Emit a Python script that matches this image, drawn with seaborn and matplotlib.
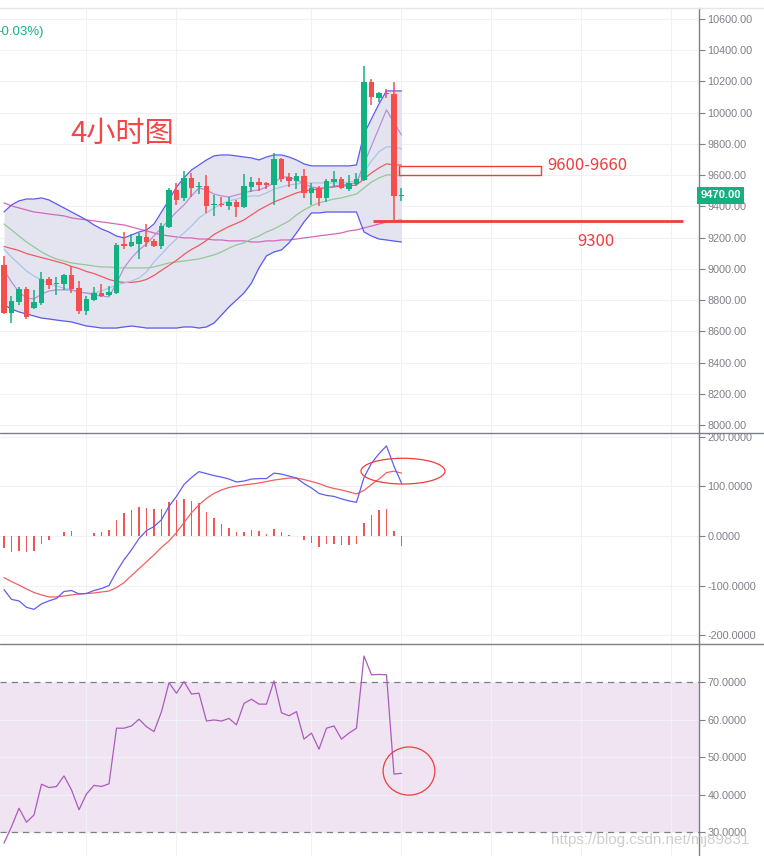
import numpy as np
import pandas as pd
import matplotlib
matplotlib.use("Agg")
import matplotlib.pyplot as plt
from matplotlib.patches import Ellipse, Rectangle
from matplotlib.lines import Line2D
import seaborn as sns

# 4h candles
opens = [9025, 8717, 8788, 8871, 8749, 8781, 8935, 8903, 8903, 8961,
         8877, 8730, 8800, 8845, 8832, 8845, 9159, 9146, 9159, 9206,
         9178, 9146, 9268, 9505, 9454, 9582, 9524, 9531, 9409, 9415,
         9402, 9428, 9396, 9524, 9556, 9548, 9537, 9703, 9586, 9564,
         9595, 9484, 9516, 9452, 9556, 9575, 9513, 9543, 9569, 10196,
         10096, 10126, 10122, 9468]
highs = [9082, 8826, 8884, 8884, 8865, 8980, 8948, 8948, 8967, 9018,
         8922, 8826, 8884, 8903, 8890, 9166, 9236, 9222, 9230, 9287,
         9193, 9294, 9518, 9550, 9627, 9614, 9556, 9601, 9473, 9460,
         9460, 9441, 9607, 9588, 9582, 9556, 9740, 9710, 9612, 9612,
         9641, 9552, 9531, 9575, 9629, 9586, 9601, 9616, 10299, 10214,
         10134, 10150, 10196, 9516]
lows = [8711, 8653, 8768, 8679, 8743, 8768, 8871, 8832, 8865, 8845,
        8711, 8704, 8795, 8820, 8826, 8840, 9127, 9140, 9063, 9140,
        9138, 9127, 9262, 9409, 9434, 9460, 9479, 9358, 9338, 9396,
        9377, 9332, 9390, 9492, 9498, 9513, 9409, 9558, 9522, 9509,
        9452, 9409, 9404, 9430, 9526, 9509, 9500, 9531, 9565, 10049,
        10070, 10096, 9308, 9436]
closes = [8717, 8794, 8871, 8692, 8788, 8935, 8897, 8909, 8961, 8871,
          8730, 8807, 8845, 8826, 8852, 9153, 9146, 9172, 9210, 9170,
          9146, 9274, 9505, 9441, 9582, 9518, 9531, 9402, 9415, 9409,
          9428, 9396, 9531, 9556, 9537, 9539, 9703, 9575, 9564, 9595,
          9484, 9516, 9452, 9563, 9575, 9516, 9548, 9575, 10196, 10099,
          10126, 10118, 9468, 9470]

bb_upper = [9364, 9409, 9435, 9447, 9447, 9454, 9441, 9415, 9390, 9364,
            9339, 9313, 9281, 9255, 9236, 9210, 9198, 9217, 9236, 9249,
            9287, 9364, 9441, 9524, 9582, 9633, 9665, 9697, 9723, 9729,
            9729, 9723, 9716, 9710, 9697, 9716, 9729, 9729, 9716, 9697,
            9672, 9659, 9659, 9659, 9659, 9659, 9659, 9665, 9864, 9960,
            10056, 10139, 10139, 10139]
bb_lower = [8769, 8743, 8724, 8711, 8698, 8685, 8679, 8672, 8666, 8660,
            8647, 8634, 8628, 8621, 8621, 8621, 8628, 8634, 8628, 8621,
            8621, 8621, 8621, 8621, 8628, 8628, 8621, 8628, 8653, 8704,
            8756, 8801, 8845, 8909, 9006, 9083, 9108, 9121, 9166, 9230,
            9300, 9358, 9358, 9364, 9364, 9364, 9364, 9364, 9236, 9210,
            9191, 9185, 9178, 9172]
ma_fast = [8993, 8916, 8852, 8813, 8807, 8839, 8858, 8865, 8865, 8865,
           8852, 8845, 8833, 8826, 8820, 8909, 9006, 9070, 9121, 9159,
           9211, 9262, 9313, 9364, 9409, 9467, 9518, 9505, 9479, 9467,
           9460, 9473, 9486, 9499, 9505, 9524, 9550, 9588, 9588, 9569,
           9543, 9524, 9518, 9518, 9531, 9537, 9543, 9550, 9672, 9787,
           9902, 10018, 9935, 9857]
ma_mid = [9127, 9075, 9031, 8986, 8954, 8929, 8903, 8890, 8877, 8865,
          8852, 8845, 8845, 8858, 8877, 8897, 8909, 8922, 8941, 8980,
          9044, 9095, 9146, 9191, 9230, 9274, 9326, 9358, 9390, 9415,
          9435, 9447, 9460, 9467, 9467, 9486, 9511, 9524, 9537, 9543,
          9550, 9550, 9550, 9550, 9550, 9550, 9556, 9563, 9620, 9691,
          9749, 9781, 9781, 9768]
ma_slow = [9143, 9130, 9117, 9098, 9085, 9072, 9060, 9047, 9034, 9015,
           9002, 8983, 8970, 8951, 8932, 8919, 8913, 8913, 8919, 8932,
           8958, 8990, 9022, 9054, 9092, 9124, 9150, 9182, 9220, 9246,
           9271, 9291, 9313, 9345, 9377, 9403, 9428, 9447, 9467, 9486,
           9499, 9505, 9511, 9518, 9524, 9531, 9531, 9537, 9576, 9614,
           9646, 9672, 9665, 9665]
ma_green = [9287, 9249, 9210, 9172, 9140, 9108, 9083, 9063, 9050, 9038,
            9031, 9025, 9018, 9012, 9012, 9006, 9006, 9006, 9006, 9006,
            9012, 9025, 9038, 9044, 9050, 9057, 9063, 9076, 9089, 9108,
            9133, 9153, 9166, 9191, 9210, 9236, 9255, 9281, 9306, 9345,
            9377, 9403, 9422, 9435, 9447, 9454, 9467, 9479, 9518, 9556,
            9582, 9601, 9601, 9595]
ma_long = [9422, 9403, 9390, 9377, 9364, 9358, 9351, 9345, 9339, 9326,
           9319, 9313, 9307, 9300, 9294, 9287, 9281, 9268, 9255, 9243,
           9230, 9217, 9211, 9204, 9198, 9198, 9191, 9191, 9185, 9185,
           9179, 9179, 9179, 9172, 9172, 9179, 9179, 9185, 9185, 9191,
           9198, 9204, 9211, 9217, 9223, 9230, 9243, 9249, 9262, 9274,
           9287, 9300, 9307, 9313]

# MACD panel
macd_line = [-108, -128, -131, -144, -148, -137, -131, -126, -112, -110,
             -117, -116, -110, -106, -100, -72, -48, -28, -5, 11,
             19, 33, 60, 80, 104, 118, 130, 126, 122, 119,
             115, 109, 111, 115, 116, 116, 127, 125, 121, 117,
             106, 97, 86, 82, 80, 75, 71, 68, 118, 147,
             166, 182, 141, 107]
signal_line = [-84, -92, -99, -107, -114, -119, -123, -123, -121, -119,
               -117, -116, -115, -113, -111, -104, -94, -80, -66, -52,
               -38, -23, -10, 7, 27, 47, 63, 76, 86, 93,
               98, 101, 103, 105, 107, 110, 113, 115, 117, 117,
               114, 110, 106, 100, 96, 93, 89, 85, 92, 104,
               115, 128, 131, 127]
hist = [-24, -32, -30, -32, -30, -16, -8, 0, 9, 11,
        1, 1, 7, 9, 12, 32, 47, 52, 58, 57,
        54, 54, 69, 73, 75, 71, 66, 49, 36, 24,
        16, 8, 9, 12, 10, 5, 14, 8, 3, 0,
        -9, -14, -22, -17, -16, -18, -18, -16, 26, 42,
        52, 55, 10, -20]

# RSI panel
rsi = [27.1, 31.5, 36.4, 32.7, 34.6, 42.8, 41.9, 42.2, 45.0, 41.3,
       36.0, 40.2, 42.5, 42.2, 42.9, 57.7, 57.7, 58.3, 60.1, 58.1,
       56.8, 62.1, 69.8, 67.0, 70.1, 66.8, 67.0, 59.6, 59.9, 59.6,
       60.3, 58.6, 64.3, 65.4, 64.1, 64.1, 70.3, 61.8, 61.0, 62.1,
       54.8, 56.4, 52.1, 57.7, 58.3, 54.8, 56.4, 57.7, 76.9, 71.9,
       72.0, 71.9, 45.5, 45.7]

price_ticks = list(range(8000, 10601, 200))
macd_ticks = [-200, -100, 0, 100, 200]
rsi_ticks = [30, 40, 50, 60, 70]
vgrid = [11, 23, 41, 53, 65, 77, 89]
last_price = 9470

UP = "#13b182"
DOWN = "#f44f4f"
AXC = "#7d808a"
GRID = "#eff1f5"

df = pd.DataFrame({"i": np.arange(len(closes)), "open": opens, "high": highs,
                   "low": lows, "close": closes, "bb_up": bb_upper, "bb_lo": bb_lower,
                   "ma_fast": ma_fast, "ma_mid": ma_mid, "ma_slow": ma_slow,
                   "ma_green": ma_green, "ma_long": ma_long,
                   "macd": macd_line, "signal": signal_line, "hist": hist, "rsi": rsi})

sns.set_style("white")
plt.rcParams["font.family"] = ["Liberation Sans", "DejaVu Sans"]

fig = plt.figure(figsize=(7.64, 8.56), dpi=100)
W, H = 764, 856
axw = 699 / W
ax1 = fig.add_axes([0, 1 - 433 / H, axw, (433 - 8) / H])
ax2 = fig.add_axes([0, 1 - 644 / H, axw, (644 - 433) / H])
ax3 = fig.add_axes([0, 0, axw, 212 / H])

XL = (-0.533, 92.67)


def style(ax, ticks, fmt):
    ax.set_xlim(*XL)
    ax.set_xticks(vgrid)
    ax.set_xticklabels([])
    ax.tick_params(axis="x", length=0)
    ax.yaxis.tick_right()
    ax.set_yticks(ticks)
    ax.set_yticklabels([fmt.format(t) for t in ticks])
    ax.tick_params(axis="y", length=4, width=0.8, color=AXC, labelcolor=AXC,
                   labelsize=7.8, pad=2)
    ax.grid(True, color=GRID, lw=0.8)
    ax.set_axisbelow(True)
    for s in ["top", "left", "bottom"]:
        ax.spines[s].set_visible(False)
    ax.spines["right"].set_color(AXC)
    ax.spines["right"].set_linewidth(1)
    ax.set_xlabel("")
    ax.set_ylabel("")


# ---- price panel
ax1.fill_between(df["i"], df["bb_lo"], df["bb_up"], color="#e4e4f0", lw=0, zorder=1)
for col, c, lw in [("ma_long", "#d468b9", 0.9), ("ma_green", "#93c995", 0.9),
                   ("ma_slow", "#ef5b60", 0.9), ("ma_mid", "#a9c4e8", 0.9),
                   ("ma_fast", "#b790d8", 0.9), ("bb_up", "#5a5aee", 0.9),
                   ("bb_lo", "#5a5aee", 0.9)]:
    sns.lineplot(data=df, x="i", y=col, ax=ax1, color=c, lw=lw, zorder=2)

colors = [UP if c >= o else DOWN for o, c in zip(opens, closes)]
ax1.vlines(df["i"], df["low"], df["high"], colors=colors, lw=1.1, zorder=3)
body_lo = np.minimum(df["open"], df["close"])
body_h = np.maximum(np.abs(df["close"] - df["open"]), 6)
ax1.bar(df["i"], body_h, bottom=body_lo, width=0.68, color=colors, lw=0, zorder=4)

style(ax1, price_ticks, "{:.2f}")
ax1.set_ylim(7949, 10670)

# annotations on price panel
ax1.add_patch(Rectangle((52.67, 9600), 18.93, 60, fill=False, ec="#f03c3c", lw=1, zorder=5))
ax1.text(72.5, 9660, "9600-9660", color="#f03c3c", fontsize=12, va="center", ha="left",
         family=["Noto Sans CJK SC", "DejaVu Sans"])
ax1.hlines(9305, 49.2, 90.5, color="#f03c3c", lw=2, zorder=5)
ax1.text(76.4, 9178, "9300", color="#f03c3c", fontsize=12, va="center", ha="left",
         family=["Noto Sans CJK SC", "DejaVu Sans"])
ax1.text(8.8, 9862, "4小时图", color="#f44646", fontsize=21, va="center", ha="left",
         family=["Noto Sans CJK SC", "DejaVu Sans"])
ax1.text(-0.9, 10514, "-0.03%)", color="#1fae86", fontsize=9.5, va="center", ha="left")
ax1.text(1.002, last_price, f"{last_price:.2f}", transform=ax1.get_yaxis_transform(),
         color="white", fontsize=8, fontweight="bold", va="center", ha="left",
         bbox=dict(boxstyle="square,pad=0.3", fc=UP, ec="none"), clip_on=False, zorder=10)

# ---- MACD panel
ax2.bar(df["i"], df["hist"], width=0.16, color="#f25555", lw=0, zorder=2)
sns.lineplot(data=df, x="i", y="signal", ax=ax2, color="#f25f5f", lw=0.9, zorder=3)
sns.lineplot(data=df, x="i", y="macd", ax=ax2, color="#5e5ef0", lw=0.9, zorder=3)
style(ax2, macd_ticks, "{:.4f}")
ax2.set_ylim(-218, 208)
ax2.add_patch(Ellipse((53.2, 131), 11.2, 52, fill=False, ec="#f03c3c", lw=0.9, zorder=5))

# ---- RSI panel
ax3.axhspan(30, 70, color="#f0e4f2", lw=0, zorder=0)
for lvl in (30, 70):
    ax3.axhline(lvl, color="#7d7f88", lw=0.9, ls=(0, (5, 4)), zorder=2)
sns.lineplot(data=df, x="i", y="rsi", ax=ax3, color="#ab5bbd", lw=0.9, zorder=3)
style(ax3, rsi_ticks, "{:.4f}")
ax3.set_ylim(23.7, 80.1)
ax3.add_patch(Ellipse((54.0, 46.3), 6.9, 12.8, fill=False, ec="#f03c3c", lw=0.9, zorder=5))

# panel separators and top border
for yy, c in [(433, AXC), (644, AXC), (8, "#e3e6ec")]:
    fig.add_artist(Line2D([0, 1], [1 - yy / H, 1 - yy / H], transform=fig.transFigure,
                          color=c, lw=1))

fig.text(551 / W, 1 - 840 / H, "https://blog.csdn.net/mj89831", color="#c9c9cc",
         fontsize=11, va="center", ha="left", alpha=0.9)

fig.savefig("out.png", dpi=100)
